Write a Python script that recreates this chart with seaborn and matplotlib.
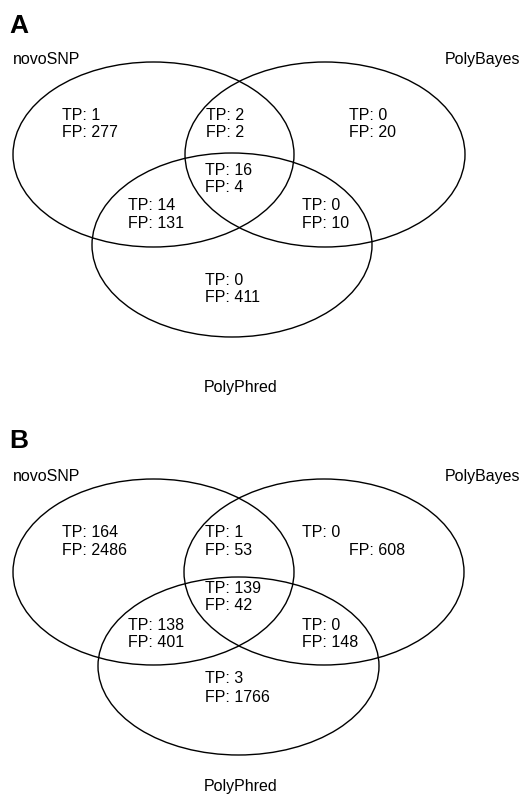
import matplotlib
matplotlib.use("Agg")
import matplotlib.pyplot as plt
from matplotlib.patches import Ellipse
import seaborn as sns

# dati: conteggi TP / FP per ogni regione del Venn
pannelli = ["A", "B"]
metodi = ["novoSNP", "PolyBayes", "PolyPhred"]
# regioni: solo novo, novo+bayes, solo bayes, tutti, novo+phred, bayes+phred, solo phred
tp_a = [1, 2, 0, 16, 14, 0, 0]
fp_a = [277, 2, 20, 4, 131, 10, 411]
tp_b = [164, 1, 0, 139, 138, 0, 3]
fp_b = [2486, 53, 608, 42, 401, 148, 1766]

# layout in pixel (origine in alto a sinistra)
# ellissi: (cx, cy, larghezza, altezza)
ellissi = {
    "A": [(153.5, 154.5, 281, 185), (325, 154.5, 280, 185), (232, 245, 280, 184)],
    "B": [(153.5, 572, 281, 186), (324, 572, 280, 186), (238.5, 666, 281, 178)],
}
# testi: (x TP, y TP, x FP, y FP) - y = baseline
pos_testi = {
    "A": [(62, 120, 62, 137), (206, 120, 206, 137), (349, 120, 349, 137),
          (205, 175, 205, 192), (128, 210, 128, 228), (302, 210, 302, 228),
          (205, 285, 205, 302)],
    "B": [(62, 537, 62, 555), (205, 537, 205, 555), (302, 537, 349, 555),
          (205, 593, 205, 610), (128, 630, 128, 647), (302, 630, 302, 647),
          (205, 683, 205, 702)],
}
# etichette: lettera pannello, novoSNP / PolyBayes, PolyPhred (baseline)
y_lettera = {"A": 33, "B": 448}
y_nomi = {"A": 64, "B": 481}
y_phred = {"A": 392, "B": 791}

sns.set_theme(style="white")
plt.rcParams["font.family"] = ["Liberation Sans", "DejaVu Sans"]
plt.rcParams["text.color"] = "black"

W, H = 524, 795
fig = plt.figure(figsize=(W / 100, H / 100), dpi=100)
ax = fig.add_axes([0, 0, 1, 1])
ax.set_xlim(0, W)
ax.set_ylim(H, 0)
ax.axis("off")

fs = 11.5
dati = {"A": (tp_a, fp_a), "B": (tp_b, fp_b)}

for p in pannelli:
    tp, fp = dati[p]
    for (cx, cy, w, h) in ellissi[p]:
        ax.add_patch(Ellipse((cx, cy), w, h, fill=False, edgecolor="black", linewidth=1.0))
    for i, (xt, yt, xf, yf) in enumerate(pos_testi[p]):
        ax.text(xt, yt, f"TP: {tp[i]}", fontsize=fs, va="baseline", ha="left", color="black")
        ax.text(xf, yf, f"FP: {fp[i]}", fontsize=fs, va="baseline", ha="left", color="black")
    ax.text(9, y_lettera[p], p, fontsize=19, fontweight="bold", va="baseline", ha="left", color="black")
    ax.text(13, y_nomi[p], metodi[0], fontsize=fs, va="baseline", ha="left", color="black")
    ax.text(520, y_nomi[p], metodi[1], fontsize=fs, va="baseline", ha="right", color="black")
    ax.text(241, y_phred[p], metodi[2], fontsize=fs, va="baseline", ha="center", color="black")

fig.savefig("out.png", dpi=100)
plt.close()
